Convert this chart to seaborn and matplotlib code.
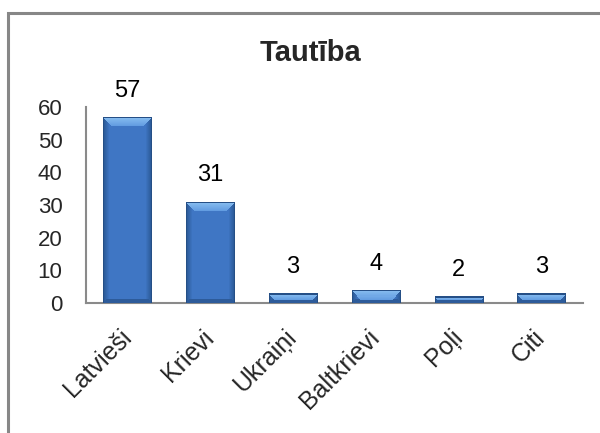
import numpy as np
import pandas as pd
import matplotlib
matplotlib.use("Agg")
import matplotlib.pyplot as plt
import seaborn as sns
from matplotlib.patches import Rectangle
from matplotlib.colors import to_rgb

# Chart data
categories = ["Latvieši", "Krievi", "Ukraiņi", "Baltkrievi", "Poļi", "Citi"]
values = [57, 31, 3, 4, 2, 3]
title = "Tautība"
y_ticks = [0, 10, 20, 30, 40, 50, 60]

sns.set_style("white")
plt.rcParams["font.family"] = ["Liberation Sans", "DejaVu Sans"]

df = pd.DataFrame({"category": categories, "value": values})

fig = plt.figure(figsize=(6.0, 4.33), dpi=100)
ax = fig.add_axes([0.1433, 0.3002, 0.828, 0.4527])

sns.barplot(data=df, x="category", y="value", color="#3d73bf", width=0.58,
            saturation=1, ax=ax, zorder=2)

ax.set_ylim(0, 60)
ax.set_xlim(-0.5, len(categories) - 0.5)
ax.set_yticks(y_ticks)
ax.set_xlabel("")
ax.set_ylabel("")
ax.tick_params(axis="y", length=0, pad=17, labelsize=16)
ax.tick_params(axis="x", length=0, pad=22, labelsize=18)
plt.setp(ax.get_xticklabels(), rotation=45, ha="right", va="center",
         rotation_mode="anchor")

for side in ["top", "right"]:
    ax.spines[side].set_visible(False)
for side in ["left", "bottom"]:
    ax.spines[side].set_color("#8a8a8a")
    ax.spines[side].set_linewidth(1.5)

ax.bar_label(ax.containers[0], labels=[str(v) for v in values], padding=11,
             fontsize=17, color="black")

# Excel-like bevel shading drawn inside each bar
c_mid = np.array(to_rgb("#3f76c4"))
c_edge = np.array(to_rgb("#2a5895"))
c_top = np.array(to_rgb("#8cc1f2"))
c_top2 = np.array(to_rgb("#5f9ae0"))
c_bot = np.array(to_rgb("#2d5b9a"))

fig.canvas.draw()
for patch in ax.containers[0].patches:
    x0, y0 = patch.get_x(), patch.get_y()
    w, h = patch.get_width(), patch.get_height()
    (px0, py0), (px1, py1) = ax.transData.transform([(x0, y0), (x0 + w, y0 + h)])
    wp, hp = max(int(round(px1 - px0)), 2), max(int(round(py1 - py0)), 2)
    img = np.zeros((hp, wp, 3))
    jj, ii = np.meshgrid(np.arange(wp), np.arange(hp))
    dx = np.minimum(jj, wp - 1 - jj)
    db = hp - 1 - ii
    img[:] = c_mid
    side = dx < 6
    f = (dx / 6.0)[..., None]
    img = np.where(side[..., None], c_edge * (1 - f) + c_mid * f, img)
    bot = (db < 4) & (db <= dx)
    img[bot] = c_bot
    top_h = min(10, max(hp - 3, 2))
    top = (ii < top_h) & (ii <= dx + 1)
    g = (ii / float(top_h))[..., None]
    img = np.where(top[..., None], c_top * (1 - g) + c_top2 * g, img)
    rim = (ii < 2) | (dx < 1)
    img[rim] = c_edge * 0.9
    im = ax.imshow(img, extent=(x0, x0 + w, y0, y0 + h), origin="upper",
                   aspect="auto", zorder=3, interpolation="nearest")
    im.set_clip_path(patch)
ax.set_xlim(-0.5, len(categories) - 0.5)
ax.set_ylim(0, 60)

fig.text(0.518, 1 - 53 / 433, title, ha="center", va="center",
         fontsize=21, fontweight="bold")

frame = Rectangle((8 / 600, -0.05), 1.2, 1 - 13 / 433 + 0.05, transform=fig.transFigure,
                  fill=False, edgecolor="#878787", linewidth=2.2)
fig.patches.append(frame)

fig.savefig("out.png", dpi=100)
